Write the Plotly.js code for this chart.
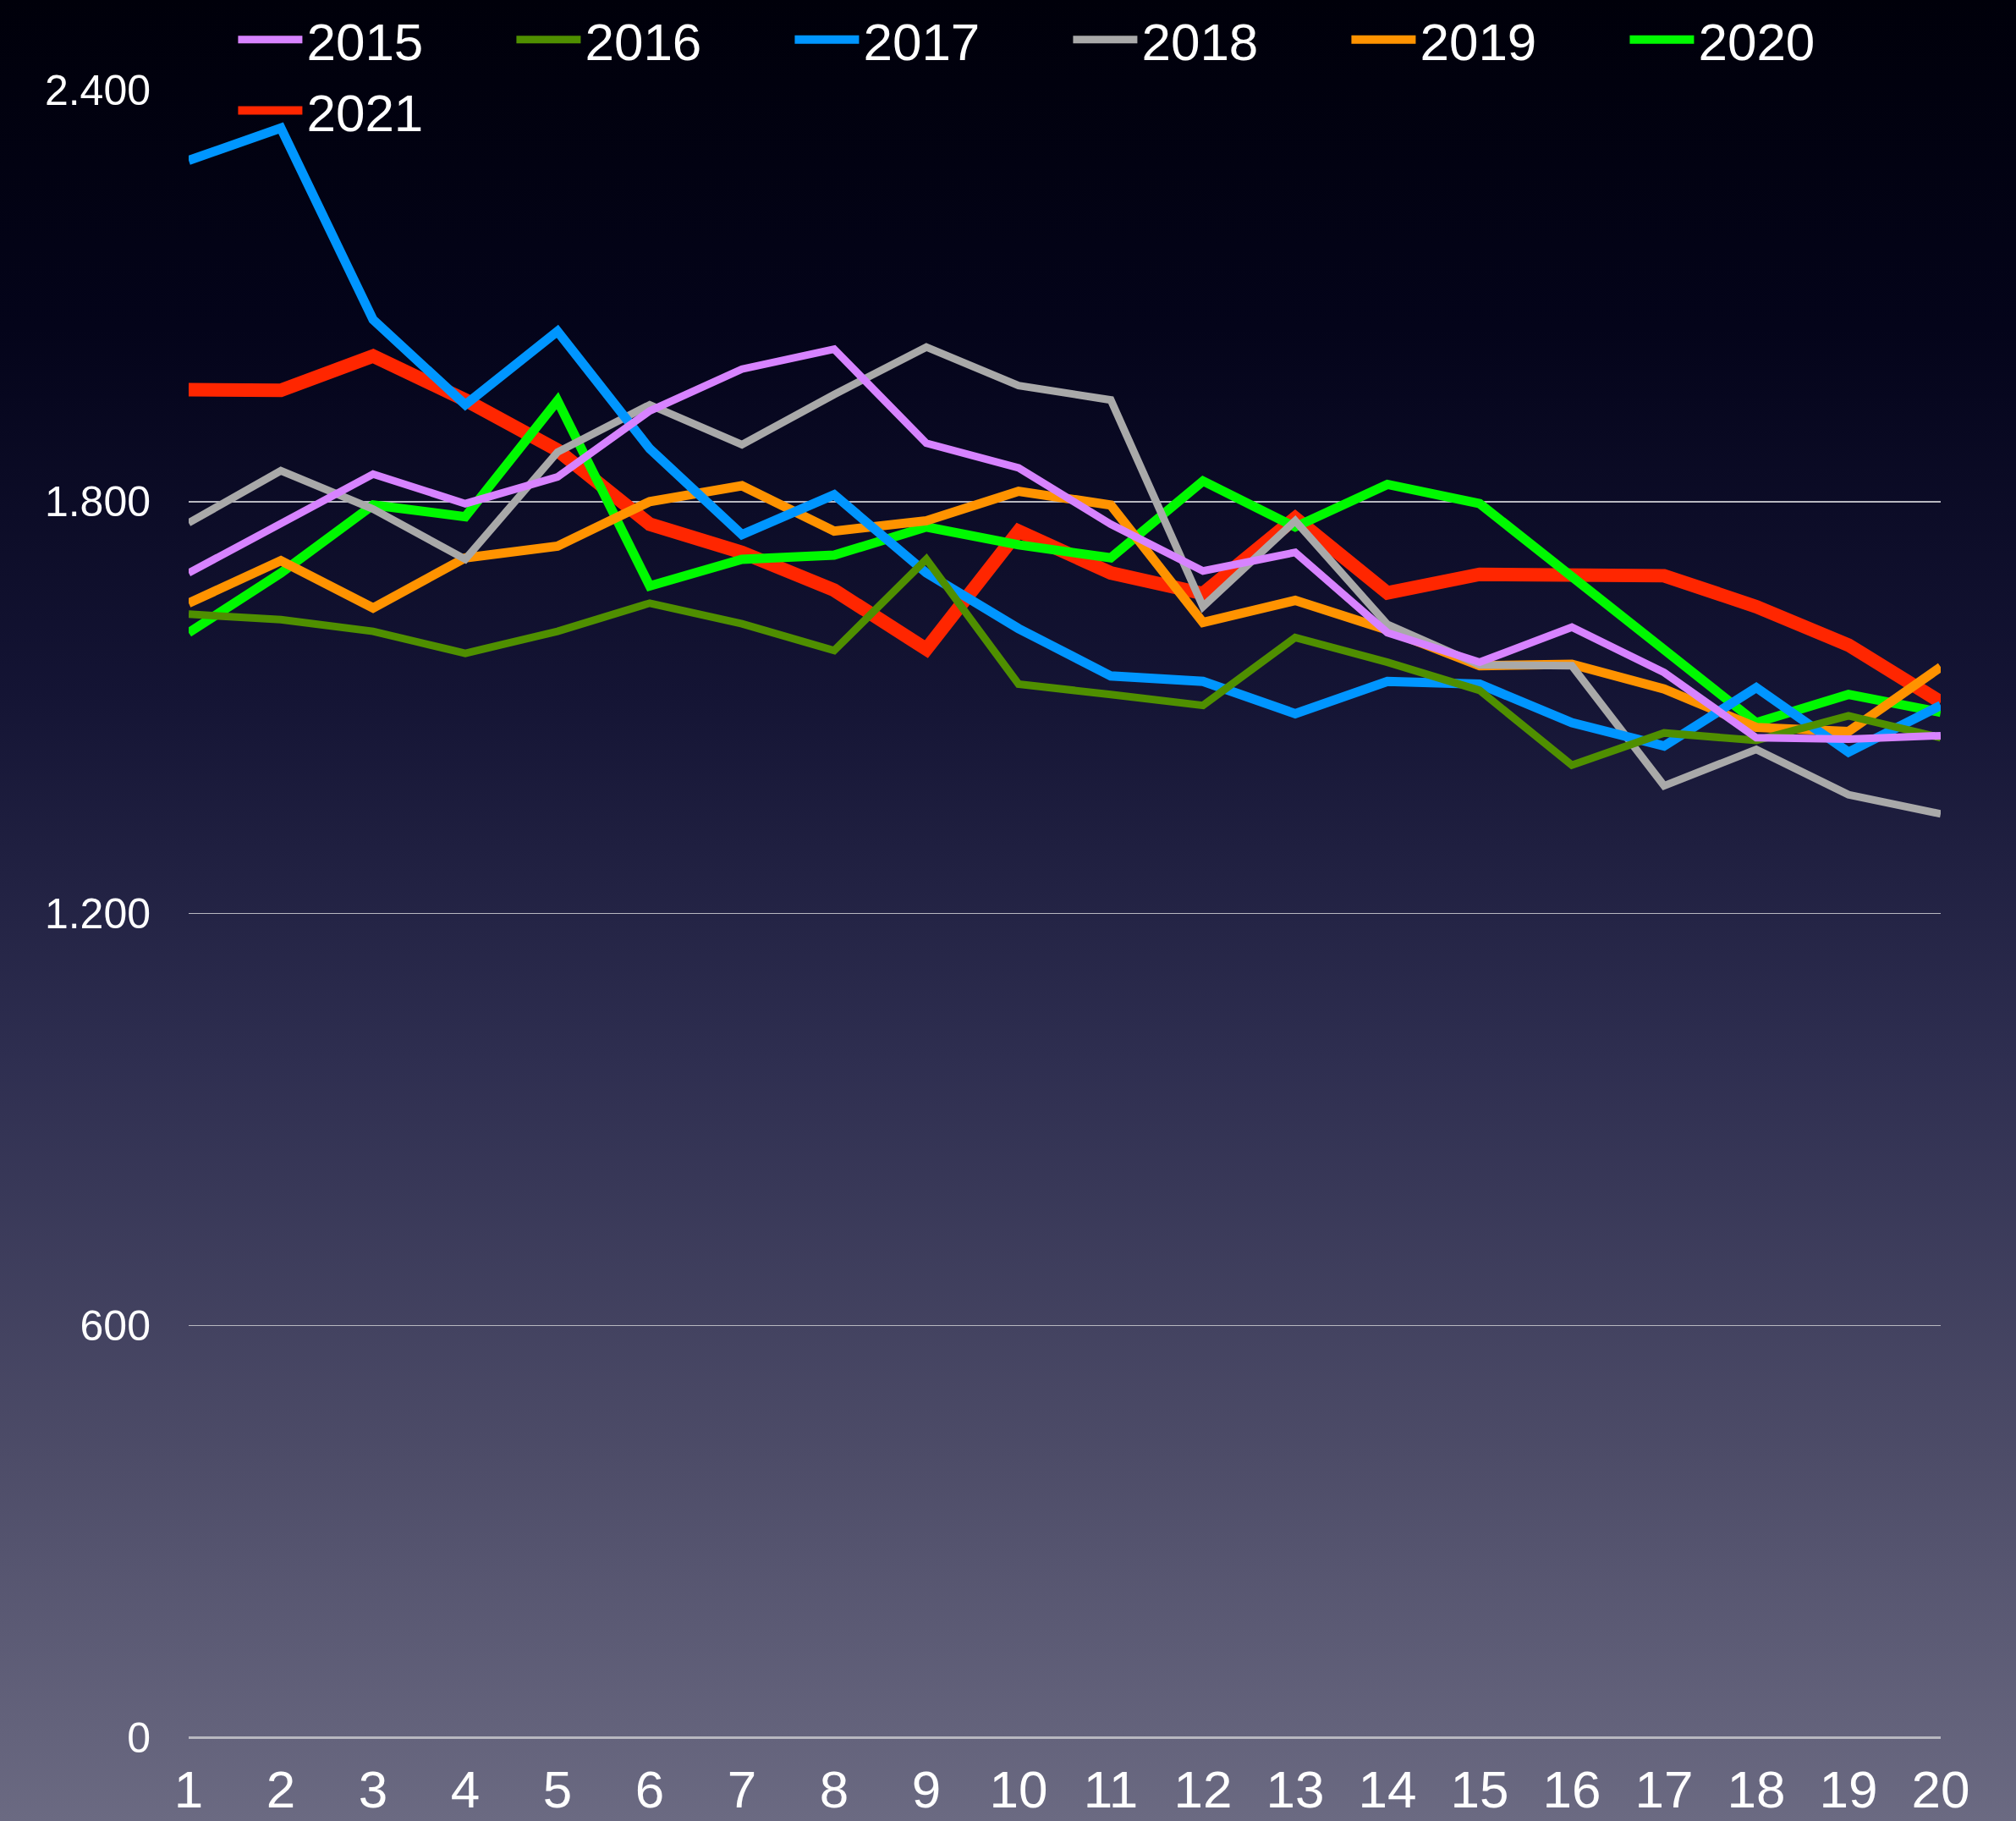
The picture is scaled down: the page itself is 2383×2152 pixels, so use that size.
<!DOCTYPE html>
<html>
<head>
<meta charset="utf-8">
<script src="https://cdn.plot.ly/plotly-3.0.1.min.js"></script>
<style>
  html, body { margin: 0; padding: 0; }
  body {
    width: 2383px; height: 2152px; overflow: hidden;
    background: linear-gradient(to bottom, #00000a 0%, #04041a 18%, #141434 38%, #2e2e50 58%, #4d4c68 80%, #6b6a82 100%);
  }
  #chart { width: 2383px; height: 2152px; }
</style>
</head>
<body>
<div id="chart"></div>
<script>
// ---- data ----
const positions = [1,2,3,4,5,6,7,8,9,10,11,12,13,14,15,16,17,18,19,20];
const yTickValues = [0, 600, 1200, 1800, 2400];
const yTickLabels = ["0", "600", "1.200", "1.800", "2.400"];

const seriesNames = ["2015", "2016", "2017", "2018", "2019", "2020", "2021"];

const y2015 = [1696,1769,1840,1797,1836,1932,1993,2022,1885,1849,1767,1699,1726,1609,1566,1617,1551,1456,1454,1459];
const y2016 = [1636,1628,1611,1579,1611,1652,1622,1583,1716,1534,1519,1503,1602,1566,1525,1416,1463,1452,1488,1456];
const y2017 = [2297,2344,2065,1941,2048,1877,1752,1810,1696,1615,1546,1538,1491,1538,1534,1478,1444,1529,1435,1503];
const y2018 = [1769,1845,1789,1716,1872,1941,1883,1956,2025,1969,1948,1647,1772,1621,1562,1561,1386,1439,1373,1345];
const y2019 = [1652,1714,1645,1718,1735,1800,1823,1757,1772,1815,1795,1624,1656,1613,1561,1563,1527,1471,1465,1559];
const y2020 = [1609,1696,1795,1778,1947,1677,1716,1722,1763,1737,1718,1830,1763,1825,1797,1690,1583,1478,1519,1493];
const y2021 = [1963,1962,2012,1948,1875,1767,1726,1671,1585,1757,1696,1666,1776,1667,1694,1692,1692,1647,1591,1508];

const seriesValues = [y2015, y2016, y2017, y2018, y2019, y2020, y2021];
const seriesColors = ["#d783ff", "#4f8f00", "#0096ff", "#a9a9a9", "#ff9300", "#00f900", "#ff2600"];
const seriesWidths = [9, 9, 11, 9, 11, 11, 16];

// ---- traces (drawn newest at bottom, oldest on top) ----
const traces = [];
for (let i = seriesNames.length - 1; i >= 0; i--) {
  traces.push({
    type: 'scatter',
    mode: 'lines',
    name: seriesNames[i],
    x: positions,
    y: seriesValues[i],
    line: { color: seriesColors[i], width: seriesWidths[i], shape: 'linear' },
    hoverinfo: 'skip'
  });
}

const fontFamily = '"Liberation Sans", Arial, Helvetica, sans-serif';

const layout = {
  width: 2383,
  height: 2152,
  paper_bgcolor: 'rgba(0,0,0,0)',
  plot_bgcolor: 'rgba(0,0,0,0)',
  margin: { l: 223, r: 89, t: 106, b: 99, pad: 0, autoexpand: false },
  font: { family: fontFamily, color: '#ffffff' },
  showlegend: true,
  legend: {
    orientation: 'h',
    traceorder: 'reversed',
    xref: 'container', yref: 'container',
    x: 0.116, xanchor: 'left',
    y: 1.0, yanchor: 'top',
    font: { family: fontFamily, size: 62, color: '#ffffff' },
    itemwidth: 76,
    entrywidth: 238,
    bgcolor: 'rgba(0,0,0,0)',
    borderwidth: 0
  },
  xaxis: {
    range: [1, 20],
    tickvals: positions,
    ticktext: positions.map(String),
    showgrid: false,
    zeroline: false,
    showline: false,
    ticks: '',
    ticklabelstandoff: 20,
    tickfont: { family: fontFamily, size: 62, color: '#ffffff' },
    fixedrange: true
  },
  yaxis: {
    range: [0, 2400],
    tickvals: yTickValues,
    ticktext: yTickLabels,
    showgrid: true,
    gridcolor: '#b8b8c0',
    gridwidth: 1.5,
    zeroline: true,
    zerolinecolor: '#b8b8c0',
    zerolinewidth: 3,
    showline: false,
    ticks: '',
    ticklabelstandoff: 44,
    tickfont: { family: fontFamily, size: 50, color: '#ffffff' },
    fixedrange: true
  }
};

Plotly.newPlot('chart', traces, layout, { staticPlot: true, displayModeBar: false });
</script>
</body>
</html>
